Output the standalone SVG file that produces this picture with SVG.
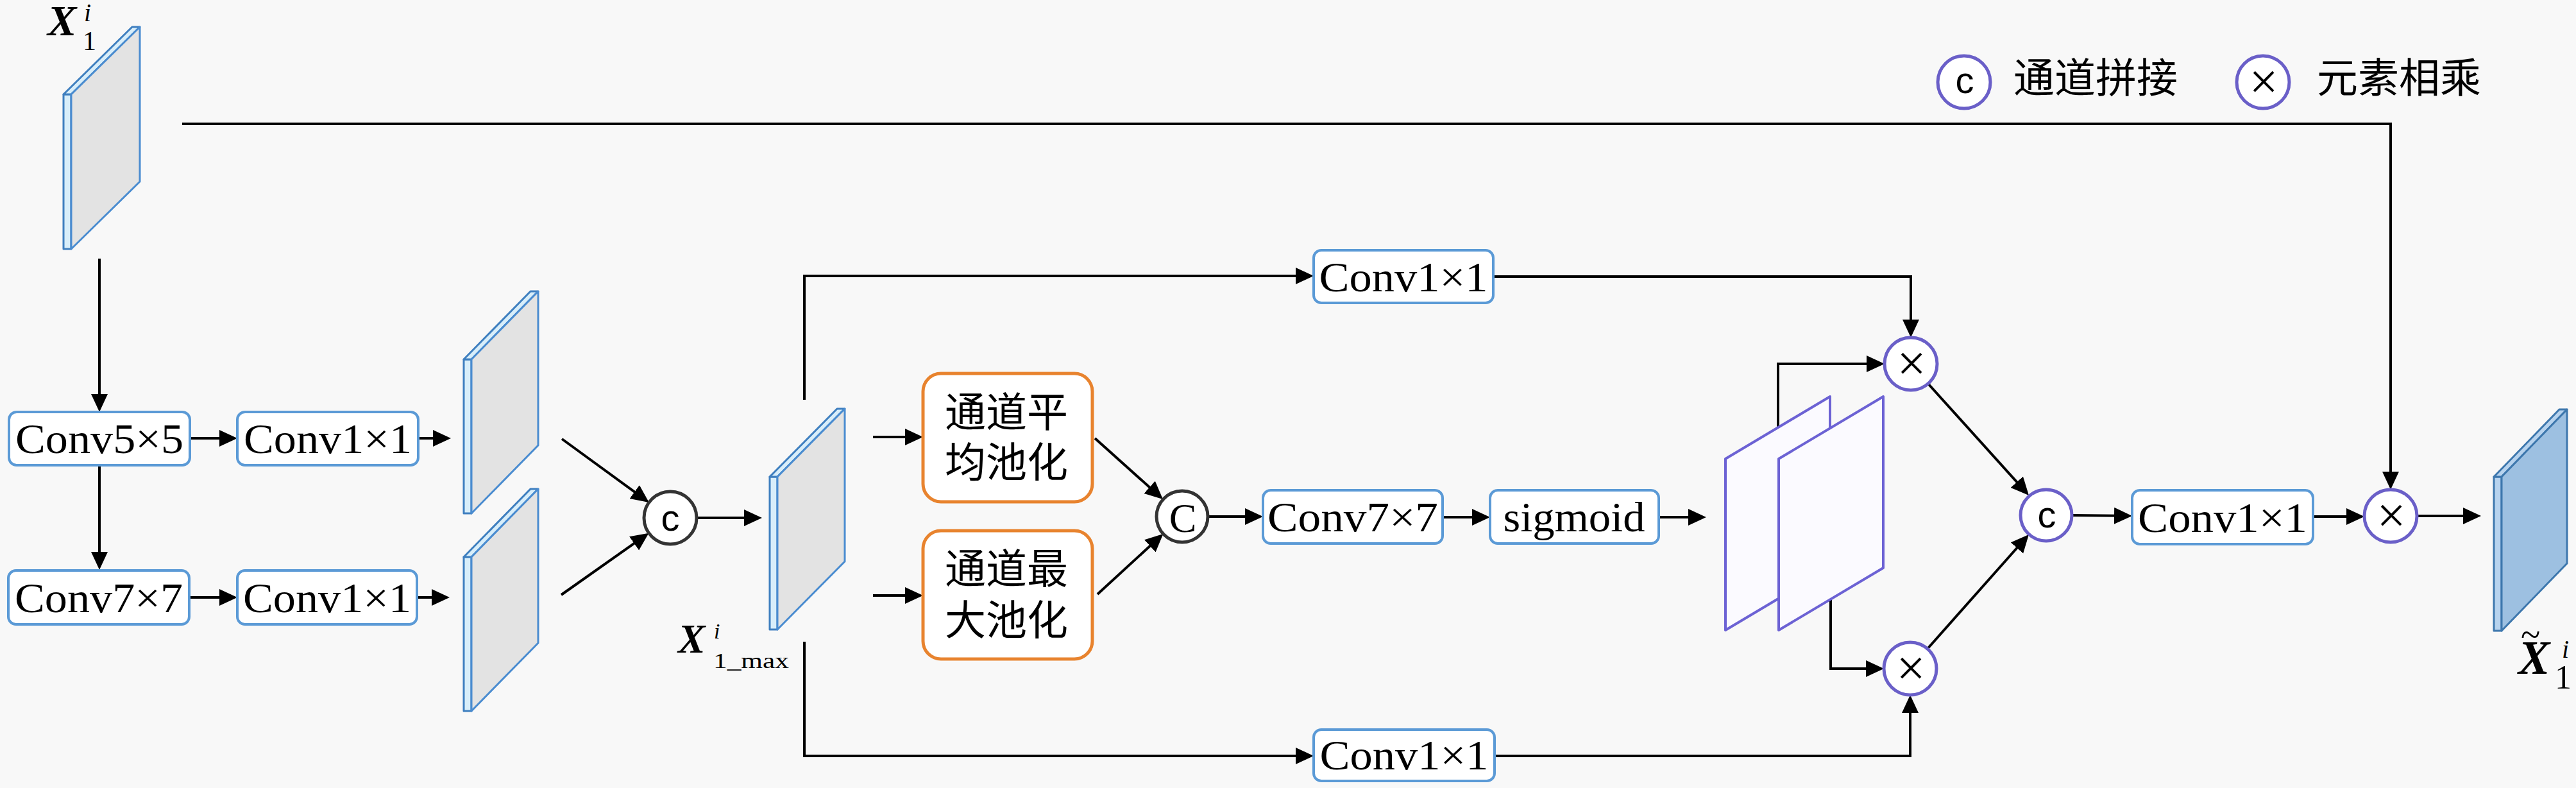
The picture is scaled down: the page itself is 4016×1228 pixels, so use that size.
<svg xmlns="http://www.w3.org/2000/svg" width="4016" height="1228" viewBox="0 0 4016 1228">
<defs>
<marker id="ah" markerUnits="userSpaceOnUse" markerWidth="30" markerHeight="28" refX="22" refY="13" orient="auto">
<path d="M0,0 L28,13 L0,26 z" fill="#000"/>
</marker>
<style>
.bg{fill:#f8f8f8}
.box{fill:#ffffff;stroke:#5b9ad6;stroke-width:4}
.pool{fill:#ffffff;stroke:#e8832e;stroke-width:5}
.lbl{font-family:"Liberation Serif","DejaVu Serif",serif;font-size:66px;fill:#000;text-anchor:middle}
.cjk{font-family:"Noto Sans CJK SC","Noto Sans CJK JP",sans-serif;font-size:64px;fill:#000}
.cjkm{font-family:"Noto Sans CJK SC","Noto Sans CJK JP",sans-serif;font-size:64px;fill:#000;text-anchor:middle}
.side{fill:#d8eefa;stroke:#3f7fbf;stroke-width:3;stroke-linejoin:round}
.front{fill:#e3e3e3;stroke:#4a8cd0;stroke-width:3;stroke-linejoin:round}
.oside{fill:#b7d3ee;stroke:#3d77ad;stroke-width:3;stroke-linejoin:round}
.ofront{fill:#9dc0e1;stroke:#3d77ad;stroke-width:3;stroke-linejoin:round}
.panel{fill:#fbfaff;stroke:#6c62d4;stroke-width:4;stroke-linejoin:round}
.cg{fill:#ffffff;stroke:#333333;stroke-width:5}
.cp{fill:#ffffff;stroke:#6a5fc8;stroke-width:5}
.csans{font-family:"Liberation Sans","DejaVu Sans",sans-serif;font-size:58px;fill:#000;text-anchor:middle}
.cserif{font-family:"Liberation Serif","DejaVu Serif",serif;font-size:64px;fill:#000;text-anchor:middle}
.times{font-family:"Liberation Serif","DejaVu Serif",serif;font-size:80px;fill:#000;text-anchor:middle}
.math{font-family:"Liberation Serif","DejaVu Serif",serif;fill:#000}
.wire{fill:none;stroke:#000;stroke-width:4}
</style>
</defs>
<rect class="bg" x="0" y="0" width="4016" height="1228"/>

<g id="connectors">
<path class="wire" d="M284,193 H3727 V757" marker-end="url(#ah)"/>
<path class="wire" d="M155,403 V636" marker-end="url(#ah)"/>
<path class="wire" d="M296,683 H364" marker-end="url(#ah)"/>
<path class="wire" d="M652,683 H697" marker-end="url(#ah)"/>
<path class="wire" d="M155,725 V882" marker-end="url(#ah)"/>
<path class="wire" d="M295,931 H364" marker-end="url(#ah)"/>
<path class="wire" d="M650,931 H695" marker-end="url(#ah)"/>
<path class="wire" d="M876,684 L1007,779.5" marker-end="url(#ah)"/>
<path class="wire" d="M875,927 L1006.6,834.2" marker-end="url(#ah)"/>
<path class="wire" d="M1086,807 H1182" marker-end="url(#ah)"/>
<path class="wire" d="M1254,623 V430 H2042" marker-end="url(#ah)"/>
<path class="wire" d="M1254,1000 V1178 H2042" marker-end="url(#ah)"/>
<path class="wire" d="M1361,681 H1433" marker-end="url(#ah)"/>
<path class="wire" d="M1361,928 H1433" marker-end="url(#ah)"/>
<path class="wire" d="M1707,683 L1808.5,774" marker-end="url(#ah)"/>
<path class="wire" d="M1711,926 L1809,836" marker-end="url(#ah)"/>
<path class="wire" d="M1883,805 H1963" marker-end="url(#ah)"/>
<path class="wire" d="M2249,806 H2317" marker-end="url(#ah)"/>
<path class="wire" d="M2586,806 H2654" marker-end="url(#ah)"/>
<path class="wire" d="M2328,431 H2979 V520" marker-end="url(#ah)"/>
<path class="wire" d="M2330,1178 H2978 V1089" marker-end="url(#ah)"/>
<path class="wire" d="M2772,668 V567 H2932" marker-end="url(#ah)"/>
<path class="wire" d="M2854,933 V1042 H2931" marker-end="url(#ah)"/>
<path class="wire" d="M3006,598 L3159,767.5" marker-end="url(#ah)"/>
<path class="wire" d="M3005,1011 L3159,837.5" marker-end="url(#ah)"/>
<path class="wire" d="M3230,803 L3318,804" marker-end="url(#ah)"/>
<path class="wire" d="M3606,805 H3680" marker-end="url(#ah)"/>
<path class="wire" d="M3768,804 H3862" marker-end="url(#ah)"/>
</g>

<g id="input-x1">
<polygon class="side" points="99,147 111,147 111,388 99,388"/>
<polygon class="side" points="99,147 206,42 218,42 111,147"/>
<polygon class="front" points="111,147 218,42 218,283 111,388"/>
<text class="math"><tspan x="74" y="55" font-size="68" font-weight="bold" font-style="italic">X</tspan><tspan x="131" y="33" font-size="40" font-style="italic">i</tspan><tspan x="129" y="78" font-size="42">1</tspan></text>
</g>

<g id="conv5x5"><rect class="box" x="14" y="642" width="282" height="83" rx="12"/><text class="lbl" x="155" y="706" textLength="262" lengthAdjust="spacingAndGlyphs">Conv5×5</text></g>
<g id="conv1x1-a"><rect class="box" x="370" y="642" width="282" height="83" rx="12"/><text class="lbl" x="511" y="706" textLength="262" lengthAdjust="spacingAndGlyphs">Conv1×1</text></g>
<g id="conv7x7-a"><rect class="box" x="13" y="889" width="282" height="84" rx="12"/><text class="lbl" x="154" y="954" textLength="262" lengthAdjust="spacingAndGlyphs">Conv7×7</text></g>
<g id="conv1x1-b"><rect class="box" x="370" y="889" width="280" height="84" rx="12"/><text class="lbl" x="510" y="954" textLength="262" lengthAdjust="spacingAndGlyphs">Conv1×1</text></g>

<g id="feat-a">
<polygon class="side" points="723,560 735,560 735,800 723,800"/>
<polygon class="side" points="723,560 827,454 839,454 735,560"/>
<polygon class="front" points="735,560 839,454 839,694 735,800"/>
</g>
<g id="feat-b">
<polygon class="side" points="723,868 735,868 735,1108 723,1108"/>
<polygon class="side" points="723,868 827,762 839,762 735,868"/>
<polygon class="front" points="735,868 839,762 839,1002 735,1108"/>
</g>

<g id="concat-1"><circle class="cg" cx="1045" cy="807" r="41"/><text class="csans" x="1045" y="827">c</text></g>

<g id="x1-max">
<polygon class="side" points="1200,743 1212,743 1212,981 1200,981"/>
<polygon class="side" points="1200,743 1305,637 1317,637 1212,743"/>
<polygon class="front" points="1212,743 1317,637 1317,875 1212,981"/>
<text class="math"><tspan x="1057" y="1017" font-size="64" font-weight="bold" font-style="italic">X</tspan><tspan x="1113" y="995" font-size="34" font-style="italic">i</tspan><tspan x="1112" y="1041" font-size="34" textLength="118" lengthAdjust="spacingAndGlyphs">1_max</tspan></text>
</g>

<g id="avg-pool"><rect class="pool" x="1439" y="582" width="264" height="200" rx="28"/><text class="cjkm"><tspan x="1569" y="665">通道平</tspan><tspan x="1569" y="743">均池化</tspan></text></g>
<g id="max-pool"><rect class="pool" x="1439" y="827" width="264" height="200" rx="28"/><text class="cjkm"><tspan x="1569" y="909">通道最</tspan><tspan x="1569" y="989">大池化</tspan></text></g>

<g id="concat-2"><circle class="cg" cx="1843" cy="805" r="40"/><text class="cserif" x="1844" y="829">C</text></g>

<g id="conv7x7-b"><rect class="box" x="1969" y="764" width="280" height="83" rx="12"/><text class="lbl" x="2109" y="828" textLength="266" lengthAdjust="spacingAndGlyphs">Conv7×7</text></g>
<g id="sigmoid"><rect class="box" x="2323" y="764" width="263" height="83" rx="12"/><text class="lbl" x="2454" y="828" textLength="221" lengthAdjust="spacingAndGlyphs">sigmoid</text></g>

<g id="conv1x1-top"><rect class="box" x="2048" y="390" width="280" height="82" rx="12"/><text class="lbl" x="2188" y="454" textLength="263" lengthAdjust="spacingAndGlyphs">Conv1×1</text></g>
<g id="conv1x1-bottom"><rect class="box" x="2048" y="1137" width="282" height="80" rx="12"/><text class="lbl" x="2189" y="1199" textLength="263" lengthAdjust="spacingAndGlyphs">Conv1×1</text></g>

<g id="attention-maps">
<polygon class="panel" points="2690,715 2853,618 2853,885 2690,982"/>
<polygon class="panel" points="2773,715 2936,618 2936,885 2773,982"/>
</g>

<g id="mul-top"><circle class="cp" cx="2979" cy="567" r="41"/><text class="times" x="2980" y="593">×</text></g>
<g id="mul-bottom"><circle class="cp" cx="2978" cy="1042" r="41"/><text class="times" x="2979" y="1068">×</text></g>
<g id="concat-3"><circle class="cp" cx="3190" cy="803" r="40"/><text class="csans" x="3191" y="822">c</text></g>
<g id="conv1x1-right"><rect class="box" x="3324" y="764" width="282" height="84" rx="12"/><text class="lbl" x="3465" y="829" textLength="264" lengthAdjust="spacingAndGlyphs">Conv1×1</text></g>
<g id="mul-right"><circle class="cp" cx="3727" cy="804" r="41"/><text class="times" x="3728" y="830">×</text></g>

<g id="output">
<polygon class="oside" points="3888,743 3900,743 3900,983 3888,983"/>
<polygon class="oside" points="3888,743 3990,638 4002,638 3900,743"/>
<polygon class="ofront" points="3900,743 4002,638 4002,878 3900,983"/>
<text class="math"><tspan x="3930" y="1008" font-size="56">~</tspan><tspan x="3926" y="1050" font-size="74" font-weight="bold" font-style="italic">X</tspan><tspan x="3994" y="1025" font-size="40" font-style="italic">i</tspan><tspan x="3983" y="1073" font-size="52">1</tspan></text>
</g>

<g id="legend">
<circle class="cp" cx="3062" cy="128" r="41"/><text class="csans" x="3063" y="145" font-size="54">c</text>
<text class="cjk" x="3139" y="144">通道拼接</text>
<circle class="cp" cx="3528" cy="128" r="41"/><text class="times" x="3529" y="154">×</text>
<text class="cjk" x="3612" y="144">元素相乘</text>
</g>
</svg>
